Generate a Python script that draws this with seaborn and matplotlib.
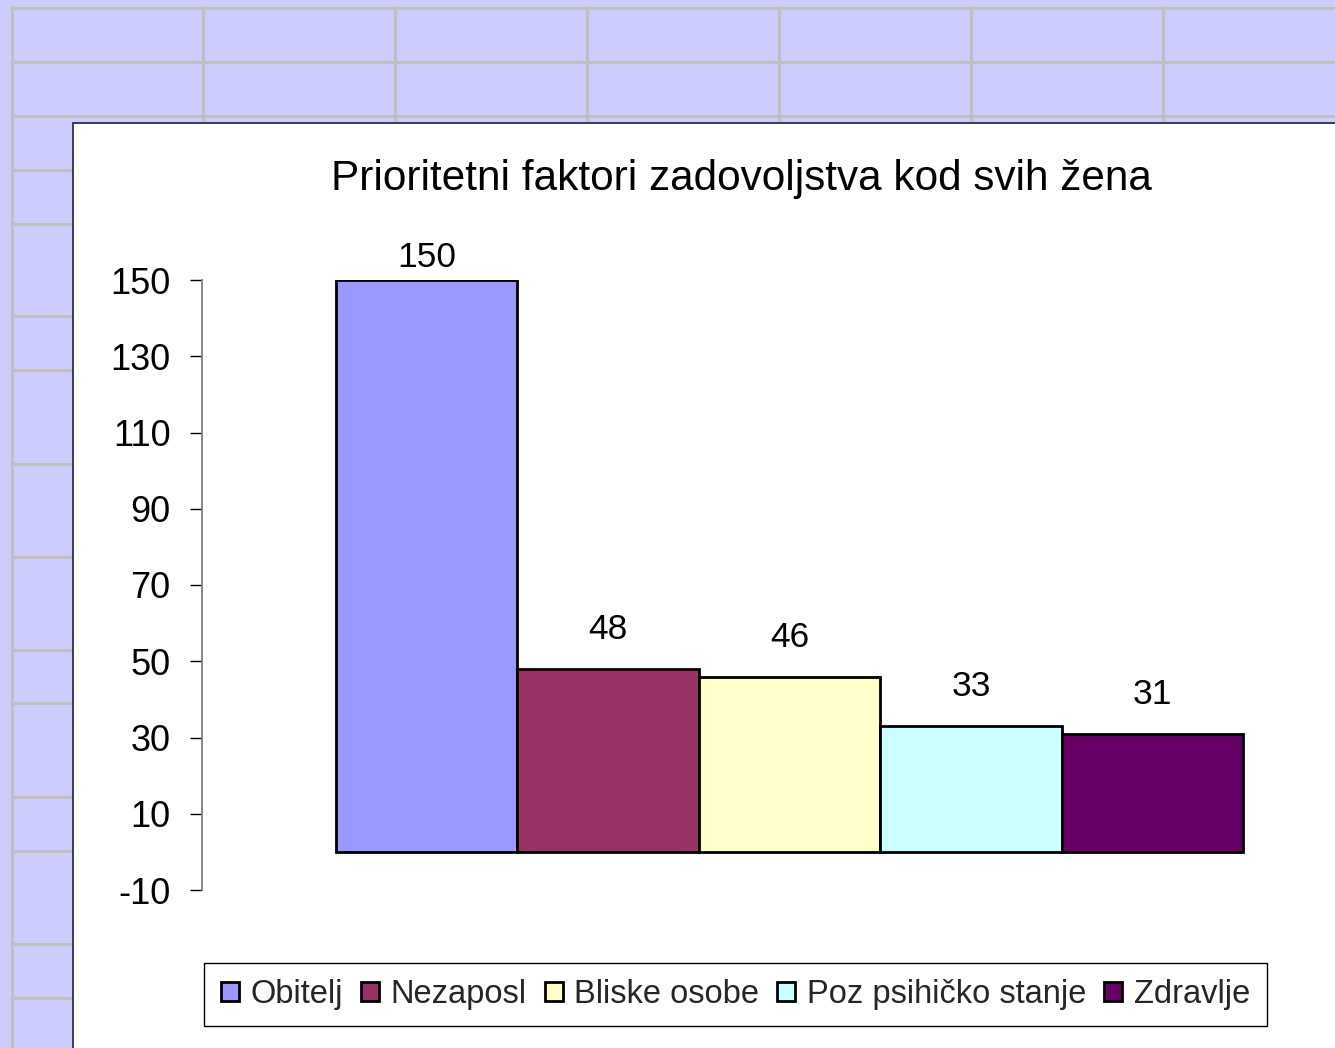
import matplotlib
matplotlib.use("Agg")
import matplotlib.pyplot as plt
import seaborn as sns
import pandas as pd
from matplotlib.patches import Rectangle, Patch

# ---- data ----
categories = ["Obitelj", "Nezaposl", "Bliske osobe", "Poz psihičko stanje", "Zdravlje"]
values = [150, 48, 46, 33, 31]
colors = ["#9999FF", "#993366", "#FFFFCC", "#CCFFFF", "#660066"]
yticks = [-10, 10, 30, 50, 70, 90, 110, 130, 150]
title = "Prioritetni faktori zadovoljstva kod svih žena"

sns.set_theme(style="white")
plt.rcParams["font.family"] = ["Liberation Sans", "DejaVu Sans"]

W, H = 1335, 1048
fig = plt.figure(figsize=(W / 100, H / 100), dpi=100)
fig.patch.set_facecolor("#CCCCFF")

# ---- spreadsheet-like background ----
bg = fig.add_axes([0, 0, 1, 1], zorder=-2)
bg.set_xlim(0, W)
bg.set_ylim(H, 0)
bg.axis("off")
bg.patch.set_alpha(0)
grid_c = "#C0C0C0"
for yy in [8, 62, 116, 170, 224, 316, 370, 464, 557, 650, 703, 797, 851, 944, 998]:
    bg.plot([10, W], [yy, yy], color=grid_c, lw=2.2, solid_capstyle="butt")
for xx in [12, 203, 395, 587, 779, 971, 1163]:
    bg.plot([xx, xx], [6, H], color=grid_c, lw=2.2, solid_capstyle="butt")
bg.add_patch(Rectangle((73, 123), W, H, facecolor="white", edgecolor="#1E1E3C", lw=1.2, zorder=5))

# ---- main chart ----
left, right = 202, W
top, bottom = 280, 890
ax = fig.add_axes([left / W, 1 - bottom / H, (right - left) / W, (bottom - top) / H])
ax.patch.set_alpha(0)

df = pd.DataFrame({"category": categories, "value": values})
sns.barplot(data=df, x="category", y="value", hue="category", hue_order=categories,
            order=categories, palette=colors, saturation=1, width=1, dodge=False,
            edgecolor="black", linewidth=2.0, legend=False, ax=ax)

ax.set_ylim(-10, 150)
ax.set_xlim(-1.239, 5.007)
ax.set_yticks(yticks)
ax.set_yticklabels([str(t) for t in yticks], fontsize=26, color="black")
ax.set_xticks([])
ax.set_xlabel("")
ax.set_ylabel("")
for s in ["top", "right", "bottom"]:
    ax.spines[s].set_visible(False)
ax.spines["left"].set_color("#808080")
ax.spines["left"].set_linewidth(1.3)
ax.tick_params(axis="y", which="major", left=True, direction="out", length=8.6,
               width=1.0, color="black", pad=14)
for lbl in ax.get_yticklabels():
    lbl.set_va("center_baseline")

for i, cont in enumerate(ax.containers):
    ax.bar_label(cont, labels=[str(values[i])], padding=(4 if i == 0 else 16.5),
                 fontsize=25.5, color="black", clip_on=False)

fig.text(741 / W, 1 - 179 / H, title, ha="center", va="center", fontsize=30.4, color="black")

handles = [Patch(facecolor=c, edgecolor="black", linewidth=2.0) for c in colors]
leg = fig.legend(handles, categories, loc="center",
                 bbox_to_anchor=(735.5 / W, 1 - 994.5 / H), ncol=5, fontsize=23.5,
                 frameon=True, fancybox=False, edgecolor="black", framealpha=1,
                 handlelength=0.55, handleheight=0.55, handletextpad=0.36,
                 columnspacing=0.55, borderpad=0.5, borderaxespad=0)
leg.get_frame().set_linewidth(1.0)

fig.savefig("out.png", dpi=100, facecolor=fig.get_facecolor())
